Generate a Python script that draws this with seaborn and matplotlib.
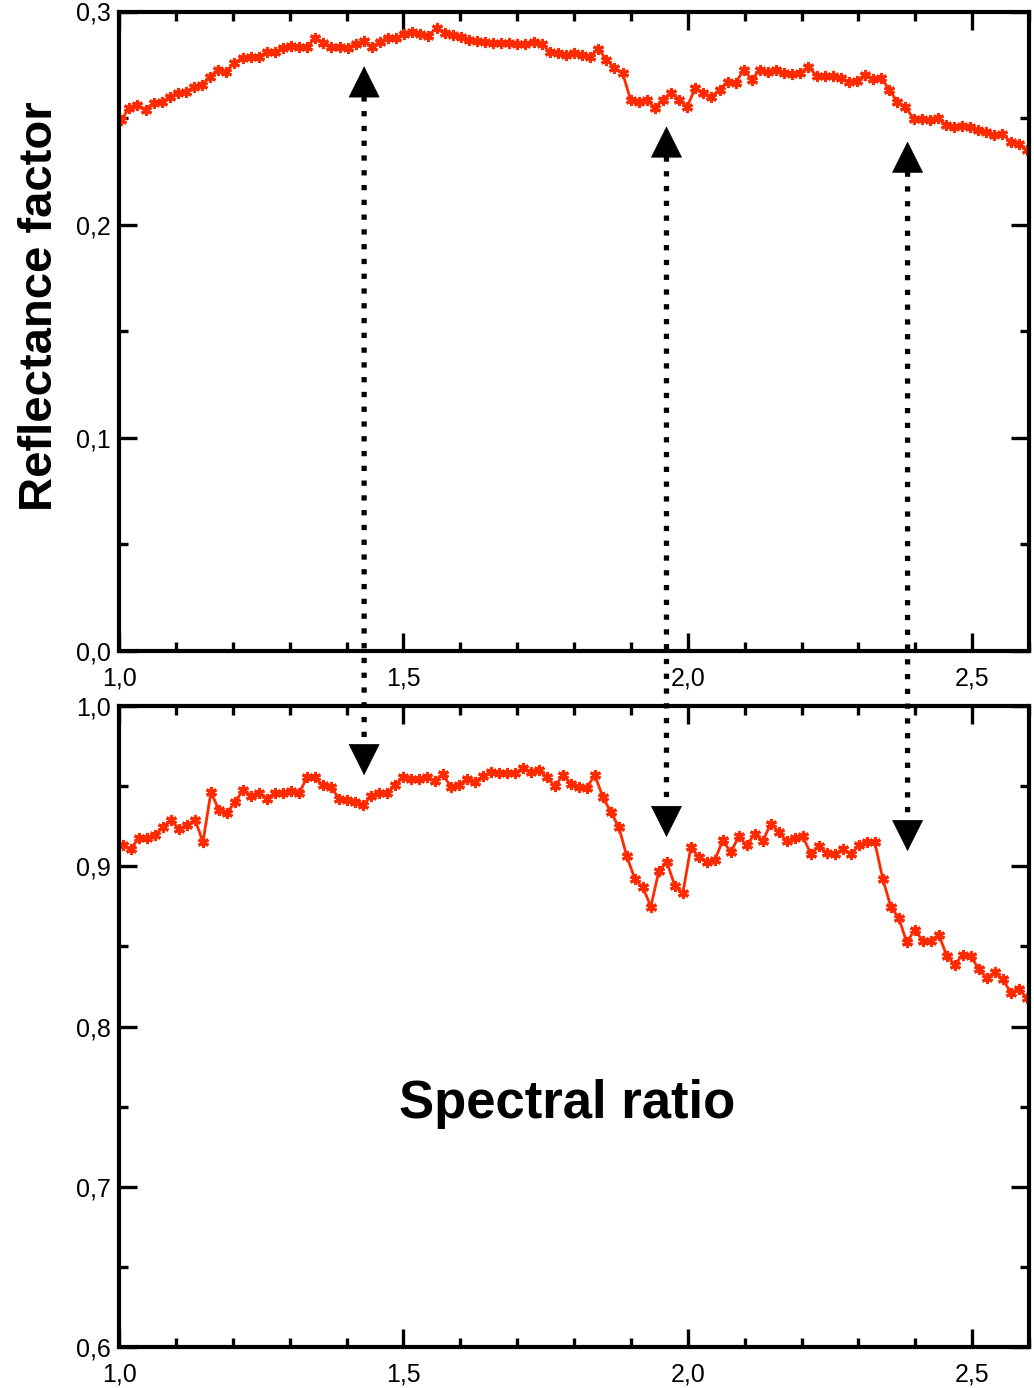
import numpy as np
import matplotlib
matplotlib.use('Agg')
import matplotlib.pyplot as plt
import seaborn as sns
from matplotlib.patches import ConnectionPatch
from matplotlib.ticker import MultipleLocator

# ---------------- data ----------------
reflectance = [
    0.2492, 0.2548, 0.2562, 0.2539, 0.2572, 0.2577, 0.2600, 0.2619, 0.2623, 0.2647,
    0.2656, 0.2694, 0.2727, 0.2718, 0.2760, 0.2783, 0.2788, 0.2788, 0.2811, 0.2811,
    0.2830, 0.2840, 0.2835, 0.2835, 0.2877, 0.2854, 0.2835, 0.2835, 0.2830, 0.2849,
    0.2863, 0.2835, 0.2859, 0.2877, 0.2877, 0.2896, 0.2906, 0.2896, 0.2887, 0.2924,
    0.2901, 0.2891, 0.2882, 0.2868, 0.2863, 0.2859, 0.2854, 0.2854, 0.2854, 0.2849,
    0.2849, 0.2859, 0.2849, 0.2811, 0.2807, 0.2797, 0.2807,
    0.2797, 0.2788, 0.2826, 0.2774, 0.2736, 0.2713, 0.2586, 0.2576, 0.2586, 0.2548,
    0.2586, 0.2619, 0.2586, 0.2553, 0.2642, 0.2619, 0.2600, 0.2633, 0.2670, 0.2666,
    0.2727, 0.2680, 0.2727, 0.2718, 0.2727, 0.2713, 0.2708, 0.2713, 0.2741, 0.2699,
    0.2699, 0.2699, 0.2689, 0.2670, 0.2675, 0.2703, 0.2685, 0.2689, 0.2633, 0.2576,
    0.2553, 0.2496, 0.2496, 0.2492, 0.2501, 0.2468, 0.2459, 0.2464, 0.2459, 0.2445,
    0.2435, 0.2421, 0.2426, 0.2388, 0.2379, 0.2351,
]

spectral_ratio = [
    0.9130, 0.9109, 0.9178, 0.9178, 0.9192, 0.9244, 0.9286, 0.9234, 0.9255, 0.9291,
    0.9151, 0.9464, 0.9349, 0.9332, 0.9401, 0.9474, 0.9437, 0.9454, 0.9422, 0.9460,
    0.9460, 0.9470, 0.9454, 0.9554, 0.9554, 0.9505, 0.9495, 0.9422, 0.9412, 0.9401,
    0.9380, 0.9437, 0.9454, 0.9454, 0.9505, 0.9554, 0.9547, 0.9547, 0.9557, 0.9532,
    0.9574, 0.9495, 0.9505, 0.9547, 0.9526, 0.9562, 0.9589, 0.9579, 0.9583, 0.9579,
    0.9616, 0.9589, 0.9599, 0.9557, 0.9499, 0.9568,
    0.9516, 0.9495, 0.9491, 0.9568, 0.9432, 0.9338, 0.9244, 0.9061, 0.8921, 0.8869,
    0.8748, 0.8969, 0.9025, 0.8879, 0.8831, 0.9119, 0.9057, 0.9025, 0.9040, 0.9161,
    0.9088, 0.9186, 0.9130, 0.9203, 0.9157, 0.9266, 0.9213, 0.9157, 0.9178, 0.9186,
    0.9078, 0.9124, 0.9082, 0.9074, 0.9109, 0.9074, 0.9130, 0.9151, 0.9151, 0.8921,
    0.8748, 0.8677, 0.8525, 0.8602, 0.8535, 0.8535, 0.8573, 0.8441, 0.8385, 0.8448,
    0.8441, 0.8358, 0.8305, 0.8337, 0.8295, 0.8212, 0.8233, 0.8180,
]

# sampling grid of the spectrometer (micrometres)
wavelength_top = np.linspace(1.004, 2.596, len(reflectance))
wavelength_ratio = np.linspace(1.007, 2.596, len(spectral_ratio))

x_ticks = [1.0, 1.5, 2.0, 2.5]
x_tick_labels = ['1,0', '1,5', '2,0', '2,5']
top_y_ticks = [0.0, 0.1, 0.2, 0.3]
top_y_labels = ['0,0', '0,1', '0,2', '0,3']
bottom_y_ticks = [0.6, 0.7, 0.8, 0.9, 1.0]
bottom_y_labels = ['0,6', '0,7', '0,8', '0,9', '1,0']

# band-position arrows: wavelength, tip in top panel, tip in bottom panel
arrow_x = [1.431, 1.9626, 2.3865]
arrow_top_tip = [0.2743, 0.2461, 0.2390]
arrow_bottom_tip = [0.9568, 0.9182, 0.9094]

# ---------------- figure ----------------
sns.set_theme(style='white')
plt.rcParams['font.family'] = ['Liberation Sans', 'DejaVu Sans']

W, H = 1034, 1388
fig = plt.figure(figsize=(W / 100, H / 100), dpi=100)
fig.patch.set_facecolor('white')
ax1 = fig.add_axes([119 / W, 1 - 651 / H, 910 / W, 639.5 / H])
ax2 = fig.add_axes([119 / W, 1 - 1347 / H, 910 / W, 641 / H])

red = '#ff2a00'
star = (6, 2, 0)
for ax, x, y in ((ax1, wavelength_top, reflectance),
                 (ax2, wavelength_ratio, spectral_ratio)):
    sns.lineplot(x=x, y=y, ax=ax, color=red, linewidth=2.0, marker=star,
                 markersize=8, markeredgewidth=2.2, markeredgecolor=red,
                 sort=False, errorbar=None, legend=False)

ax1.set_xlim(1.0, 2.6)
ax1.set_ylim(0.0, 0.3)
ax2.set_xlim(1.0, 2.6)
ax2.set_ylim(0.6, 1.0)

for ax, yt, yl in ((ax1, top_y_ticks, top_y_labels),
                   (ax2, bottom_y_ticks, bottom_y_labels)):
    ax.set_facecolor('white')
    ax.set_xticks(x_ticks)
    ax.set_xticklabels(x_tick_labels)
    ax.set_yticks(yt)
    ax.set_yticklabels(yl)
    ax.xaxis.set_minor_locator(MultipleLocator(0.1))
    ax.yaxis.set_minor_locator(MultipleLocator(0.05))
    ax.tick_params(which='both', direction='in', top=True, right=True,
                   bottom=True, left=True, color='black', width=2.4,
                   labelsize=18, labelcolor='black')
    ax.tick_params(which='major', length=13)
    ax.tick_params(which='minor', length=6.5)
    ax.tick_params(axis='x', which='major', pad=11)
    ax.tick_params(axis='y', which='major', pad=6)
    for s in ax.spines.values():
        s.set_visible(True)
        s.set_color('black')
        s.set_linewidth(3)
    ax.set_xlabel('')
    ax.set_ylabel('')
    ax.grid(False)

fig.text(40 / W, 1 - 306 / H, 'Reflectance factor', rotation=90,
         fontsize=34, fontweight='bold', ha='center', va='center', color='black')
fig.text(567.5 / W, 1 - 1118 / H, 'Spectral ratio', fontsize=38,
         fontweight='bold', ha='center', va='baseline', color='black')

# arrows spanning both panels
head_top = 30 / 2131.7      # 30 px in top-panel data units
head_bot = 30 / 1602.5      # 30 px in bottom-panel data units
for xa, tt, bt in zip(arrow_x, arrow_top_tip, arrow_bottom_tip):
    line = ConnectionPatch(xyA=(xa, tt - head_top), coordsA=ax1.transData,
                           xyB=(xa, bt + head_bot), coordsB=ax2.transData,
                           color='black', linewidth=3.8,
                           linestyle=(0, (1, 1.8)), arrowstyle='-',
                           shrinkA=0, shrinkB=0)
    line.set_capstyle('butt')
    fig.add_artist(line)
    up = ConnectionPatch(xyA=(xa, tt - head_top), coordsA=ax1.transData,
                         xyB=(xa, tt), coordsB=ax1.transData,
                         arrowstyle='-|>,head_length=21.6,head_width=10.8',
                         mutation_scale=1, color='black', linewidth=0.5,
                         shrinkA=0, shrinkB=0)
    fig.add_artist(up)
    down = ConnectionPatch(xyA=(xa, bt + head_bot), coordsA=ax2.transData,
                           xyB=(xa, bt), coordsB=ax2.transData,
                           arrowstyle='-|>,head_length=21.6,head_width=10.8',
                           mutation_scale=1, color='black', linewidth=0.5,
                           shrinkA=0, shrinkB=0)
    fig.add_artist(down)

fig.savefig('out.png', dpi=100, facecolor='white')
